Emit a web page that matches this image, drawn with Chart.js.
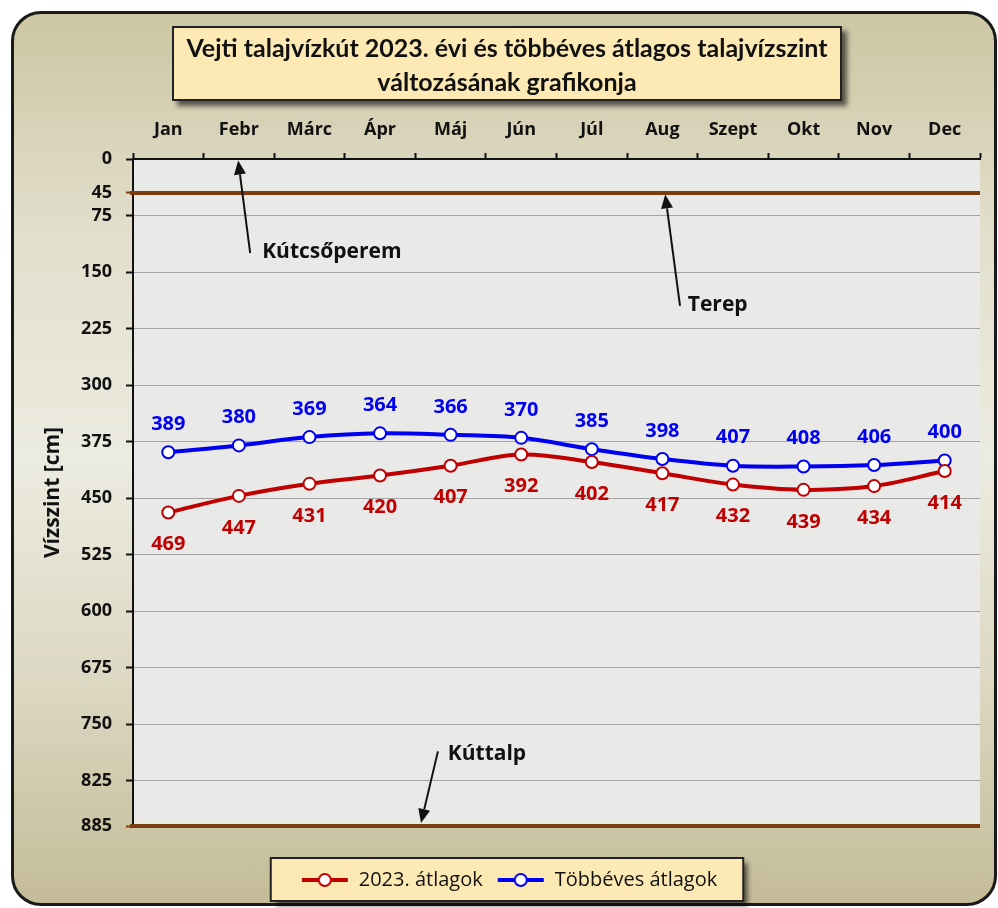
<!DOCTYPE html>
<html lang="hu">
<head>
    <meta charset="UTF-8">
    <title>Vejti talajvízkút</title>
    <script src="https://cdn.jsdelivr.net/npm/chart.js"></script>
    <style>
        html, body { margin: 0; padding: 0; background: #fff; }
        .keret { position: absolute; left: 0; top: 0; width: 998px; height: 908px; overflow: hidden; font-family: Lato, sans-serif; }
        .panel {
            position: absolute; left: 11px; top: 11px; width: 986px; height: 895px;
            box-sizing: border-box; border: 3px solid #1a1a1a; border-radius: 30px;
            background: linear-gradient(to bottom, #cdc6a3 0%, #e2dfcc 25%, #ecebe0 50%, #dcd8c2 75%, #c4bc98 100%);
        }
        .cim {
            position: absolute; left: 172px; top: 26px; width: 670px; height: 75px;
            box-sizing: border-box; border: 2px solid #222; background: #fde9b4;
            box-shadow: 5px 5px 5px rgba(0,0,0,0.6);
            text-align: center; font-weight: bold; font-size: 25px; line-height: 34px;
            padding-top: 2px; color: #111; z-index: 2; white-space: nowrap;
        }
        #grafikon { position: absolute; left: 0; top: 0; z-index: 1; }
    </style>
</head>
<body>
    <div class="keret">
        <div class="panel"></div>
        <div class="cim">Vejti talajvízkút 2023. évi és többéves átlagos talajvízszint<br>változásának grafikonja</div>
        <canvas id="grafikon" width="998" height="908"></canvas>
    </div>

    <script>
        // adatok
        const honapok = ['Jan', 'Febr', 'Márc', 'Ápr', 'Máj', 'Jún', 'Júl', 'Aug', 'Szept', 'Okt', 'Nov', 'Dec'];
        const atlag2023 = [469, 447, 431, 420, 407, 392, 402, 417, 432, 439, 434, 414];
        const tobbeves = [389, 380, 369, 364, 366, 370, 385, 398, 407, 408, 406, 400];
        const yTickek = [0, 45, 75, 150, 225, 300, 375, 450, 525, 600, 675, 750, 825, 885];
        const terepSzint = 45;
        const kuttalpSzint = 885;

        const barna = '#7b3c10';
        const piros = '#c00000';
        const kek = '#0000f0';
        const betu = '"Open Sans", sans-serif';

        // nyilak: hegy / vég / felirat (hónap index, vízszint)
        const nyilak = [
            { szoveg: 'Kútcsőperem', hegy: [0.99, 2], veg: [1.16, 125], felirat: [1.33, 123] },
            { szoveg: 'Terep', hegy: [7.04, 47], veg: [7.25, 195], felirat: [7.36, 194] },
            { szoveg: 'Kúttalp', hegy: [3.58, 881], veg: [3.82, 786], felirat: [3.96, 789] }
        ];

        Chart.defaults.font.family = betu;

        // jelmagyarázat ikon: vonal + üres kör
        function ikon(szin) {
            const c = document.createElement('canvas');
            c.width = 48; c.height = 16;
            const g = c.getContext('2d');
            g.strokeStyle = szin;
            g.lineWidth = 4;
            g.beginPath(); g.moveTo(1, 8); g.lineTo(47, 8); g.stroke();
            g.beginPath(); g.arc(24, 8, 6, 0, Math.PI * 2);
            g.fillStyle = '#fff'; g.fill();
            g.lineWidth = 2; g.stroke();
            return c;
        }

        const hatter = {
            id: 'hatter',
            beforeDraw(chart) {
                const { ctx, chartArea: a } = chart;
                ctx.save();
                ctx.fillStyle = '#e9e9e7';
                ctx.fillRect(a.left, a.top, a.right - a.left, a.bottom - a.top);

                // jelmagyarázat doboza
                const hb = chart.legend.legendHitBoxes;
                if (hb && hb.length) {
                    const bal = Math.min(...hb.map(h => h.left)) - 30;
                    const jobb = Math.max(...hb.map(h => h.left + h.width)) + 26;
                    const teteje = hb[0].top - 12;
                    const alja = hb[0].top + hb[0].height + 11;
                    ctx.shadowColor = 'rgba(0,0,0,0.6)';
                    ctx.shadowBlur = 5;
                    ctx.shadowOffsetX = 5;
                    ctx.shadowOffsetY = 5;
                    ctx.fillStyle = '#fde9b4';
                    ctx.fillRect(bal, teteje, jobb - bal, alja - teteje);
                    ctx.shadowColor = 'transparent';
                    ctx.lineWidth = 2;
                    ctx.strokeStyle = '#222';
                    ctx.strokeRect(bal, teteje, jobb - bal, alja - teteje);
                }
                ctx.restore();
            }
        };

        const szintvonalak = {
            id: 'szintvonalak',
            beforeDatasetsDraw(chart) {
                const { ctx, chartArea: a, scales: { y } } = chart;
                ctx.save();
                ctx.strokeStyle = barna;
                ctx.lineWidth = 4;
                [terepSzint, kuttalpSzint].forEach(v => {
                    const py = y.getPixelForValue(v);
                    ctx.beginPath();
                    ctx.moveTo(a.left - 3, py);
                    ctx.lineTo(a.right, py);
                    ctx.stroke();
                });
                ctx.restore();
            }
        };

        const adatcimkek = {
            id: 'adatcimkek',
            afterDatasetsDraw(chart) {
                const { ctx } = chart;
                ctx.save();
                ctx.font = 'bold 20px ' + betu;
                ctx.textAlign = 'center';
                ctx.textBaseline = 'middle';
                chart.data.datasets.forEach((ds, i) => {
                    const meta = chart.getDatasetMeta(i);
                    ctx.fillStyle = ds.borderColor;
                    meta.data.forEach((p, j) => {
                        ctx.fillText(ds.data[j], p.x, p.y + ds.cimkeEltolas);
                    });
                });
                ctx.restore();
            }
        };

        const nyilRajz = {
            id: 'nyilRajz',
            afterDraw(chart) {
                const { ctx, scales: { x, y } } = chart;
                ctx.save();
                ctx.strokeStyle = '#111';
                ctx.fillStyle = '#111';
                ctx.lineWidth = 2;
                nyilak.forEach(n => {
                    const hx = x.getPixelForValue(n.hegy[0]), hy = y.getPixelForValue(n.hegy[1]);
                    const vx = x.getPixelForValue(n.veg[0]), vy = y.getPixelForValue(n.veg[1]);
                    const szog = Math.atan2(hy - vy, hx - vx);
                    const hossz = 14, fel = 6;
                    const bx = hx - hossz * Math.cos(szog), by = hy - hossz * Math.sin(szog);
                    ctx.beginPath();
                    ctx.moveTo(vx, vy);
                    ctx.lineTo(bx, by);
                    ctx.stroke();
                    ctx.beginPath();
                    ctx.moveTo(hx, hy);
                    ctx.lineTo(bx + fel * Math.sin(szog), by - fel * Math.cos(szog));
                    ctx.lineTo(bx - fel * Math.sin(szog), by + fel * Math.cos(szog));
                    ctx.closePath();
                    ctx.fill();

                    ctx.font = 'bold 21px ' + betu;
                    ctx.textAlign = 'left';
                    ctx.textBaseline = 'middle';
                    ctx.fillText(n.szoveg, x.getPixelForValue(n.felirat[0]), y.getPixelForValue(n.felirat[1]));
                });
                ctx.restore();
            }
        };

        const kulonSzint = v => v === 0 || v === terepSzint || v === kuttalpSzint;

        new Chart(document.getElementById('grafikon'), {
            type: 'line',
            data: {
                labels: honapok,
                datasets: [
                    {
                        label: '2023. átlagok',
                        data: atlag2023,
                        borderColor: piros,
                        borderWidth: 4,
                        pointRadius: 6,
                        pointBorderWidth: 2,
                        pointBackgroundColor: '#fff',
                        pointBorderColor: piros,
                        tension: 0.35,
                        cimkeEltolas: 32
                    },
                    {
                        label: 'Többéves átlagok',
                        data: tobbeves,
                        borderColor: kek,
                        borderWidth: 4,
                        pointRadius: 6,
                        pointBorderWidth: 2,
                        pointBackgroundColor: '#fff',
                        pointBorderColor: kek,
                        tension: 0.35,
                        cimkeEltolas: -28
                    }
                ]
            },
            options: {
                responsive: false,
                animation: false,
                layout: { padding: { left: 38, right: 18, top: 109, bottom: 8 } },
                scales: {
                    x: {
                        position: 'top',
                        offset: true,
                        grid: { offset: true, drawOnChartArea: false, tickLength: 6, tickColor: '#111', tickWidth: 2 },
                        border: { color: '#111', width: 2 },
                        ticks: { font: { size: 18, weight: 'bold' }, color: '#111', padding: 12, maxRotation: 0, autoSkip: false },
                        afterFit: s => { s.height = 50; }
                    },
                    y: {
                        reverse: true,
                        min: 0,
                        max: 885,
                        afterBuildTicks: s => { s.ticks = yTickek.map(v => ({ value: v })); },
                        grid: {
                            color: c => kulonSzint(c.tick.value) ? 'rgba(0,0,0,0)' : '#a3a3a3',
                            lineWidth: 1,
                            tickLength: 7,
                            tickWidth: 2,
                            tickColor: c => (c.tick.value === terepSzint || c.tick.value === kuttalpSzint) ? barna : '#111'
                        },
                        border: { color: '#111', width: 2 },
                        ticks: { font: { size: 18, weight: 'bold' }, color: '#111', padding: 14, autoSkip: false },
                        title: { display: true, text: 'Vízszint [cm]', font: { size: 21, weight: 'bold' }, color: '#111', padding: { top: 2, bottom: 4 } },
                        afterFit: s => { s.width = 95; }
                    }
                },
                plugins: {
                    legend: {
                        position: 'bottom',
                        title: { display: true, text: '', font: { size: 10 }, padding: { top: 18, bottom: 0 } },
                        labels: {
                            usePointStyle: true,
                            pointStyleWidth: 48,
                            padding: 14,
                            font: { size: 20 },
                            color: '#111',
                            generateLabels: chart => chart.data.datasets.map((ds, i) => ({
                                text: ds.label,
                                pointStyle: ikon(ds.borderColor),
                                datasetIndex: i,
                                hidden: false,
                                fontColor: '#111',
                                lineWidth: 0,
                                strokeStyle: 'rgba(0,0,0,0)',
                                fillStyle: 'rgba(0,0,0,0)'
                            }))
                        }
                    },
                    tooltip: { enabled: false }
                }
            },
            plugins: [hatter, szintvonalak, adatcimkek, nyilRajz]
        });
    </script>
</body>
</html>
